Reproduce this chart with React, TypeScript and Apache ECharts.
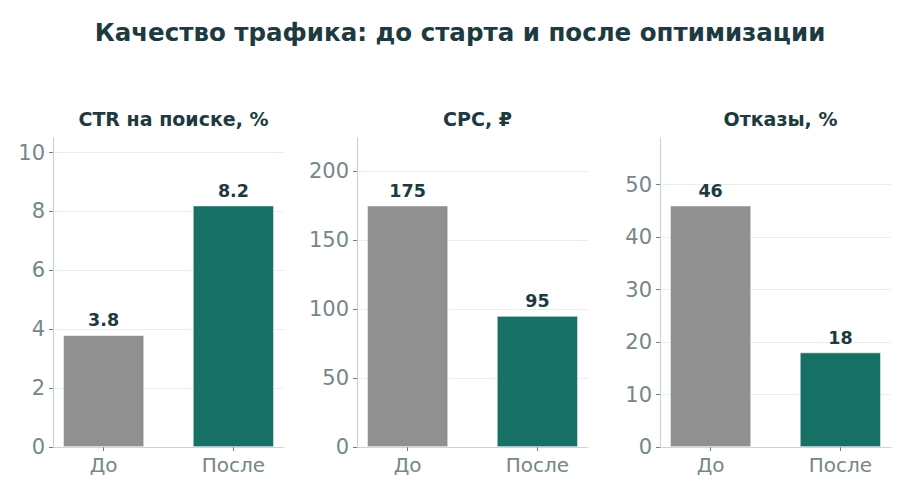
import { useEffect, useRef } from 'react';
import * as echarts from 'echarts';

const categories = ['До', 'После'];
const panelTitles = ['CTR на поиске, %', 'CPC, ₽', 'Отказы, %'];
const ctrValues = [3.8, 8.2];
const cpcValues = [175, 95];
const bounceValues = [46, 18];
const ctrTicks = [0, 2, 4, 6, 8, 10];
const cpcTicks = [0, 50, 100, 150, 200];
const bounceTicks = [0, 10, 20, 30, 40, 50];

const DARK = '#1d3a40';
const GRAY_TEXT = '#76868a';
const AXIS = '#c9d4d4';
const GRID = '#e9efef';
const BAR_COLORS = ['#909090', '#167066'];
const FONT = '"DejaVu Sans", sans-serif';

const panels = [
  { values: ctrValues, ticks: ctrTicks, left: 53 },
  { values: cpcValues, ticks: cpcTicks, left: 357 },
  { values: bounceValues, ticks: bounceTicks, left: 660 },
];
const gridWidth = 231;

export default function App() {
  const ref = useRef<HTMLDivElement>(null);

  useEffect(() => {
    document.body.style.margin = '0';
    if (!ref.current) return;
    const chart = echarts.init(ref.current, null, { renderer: 'svg' });

    const option: echarts.EChartsOption = {
      animation: false,
      backgroundColor: '#ffffff',
      textStyle: { fontFamily: FONT },
      title: [
        {
          text: 'Качество трафика: до старта и после оптимизации',
          left: 455,
          textAlign: 'center',
          top: 15,
          textStyle: { fontFamily: FONT, fontSize: 24.5, fontWeight: 'bold', color: DARK },
        },
        ...panels.map((p, i) => ({
          text: panelTitles[i],
          left: p.left + gridWidth / 2,
          textAlign: 'center' as const,
          top: 104,
          textStyle: { fontFamily: FONT, fontSize: 19, fontWeight: 'bold' as const, color: DARK },
        })),
      ],
      grid: panels.map((p) => ({
        left: p.left,
        width: gridWidth,
        top: 138,
        bottom: 34,
        containLabel: false,
      })),
      xAxis: panels.map((_, i) => ({
        type: 'value' as const,
        gridIndex: i,
        min: -0.39,
        max: 1.39,
        splitLine: { show: false },
        axisLine: { show: true, onZero: false, lineStyle: { color: AXIS, width: 1.2 } },
        axisTick: {
          show: true,
          customValues: [0, 1],
          length: 4,
          lineStyle: { color: '#6f7f80', width: 1 },
        },
        axisLabel: {
          customValues: [0, 1],
          formatter: (v: number) => categories[Math.round(v)] ?? '',
          fontSize: 20,
          color: GRAY_TEXT,
          fontFamily: FONT,
          margin: 8,
        },
      })),
      yAxis: panels.map((p, i) => ({
        type: 'value' as const,
        gridIndex: i,
        min: 0,
        max: Math.max(...p.values) * 1.28,
        axisLine: { show: true, onZero: false, lineStyle: { color: AXIS, width: 1.2 } },
        axisTick: {
          show: true,
          customValues: p.ticks,
          length: 4,
          lineStyle: { color: '#6f7f80', width: 1 },
        },
        axisLabel: {
          customValues: p.ticks,
          fontSize: 21,
          color: GRAY_TEXT,
          fontFamily: FONT,
          margin: 8,
        },
        splitLine: { show: true, lineStyle: { color: GRID, width: 1 } },
      })),
      series: panels.map((p, i) => ({
        type: 'bar' as const,
        xAxisIndex: i,
        yAxisIndex: i,
        barWidth: 81,
        data: p.values.map((v, j) => ({
          value: [j, v],
          itemStyle: { color: BAR_COLORS[j], borderColor: '#ffffff', borderWidth: 0.6 },
        })),
        label: {
          show: true,
          position: 'top' as const,
          distance: 6,
          formatter: (d: any) => String(d.value[1]),
          fontFamily: FONT,
          fontSize: 17.5,
          fontWeight: 'bold' as const,
          color: DARK,
        },
      })),
    };

    chart.setOption(option);
    return () => {
      chart.dispose();
    };
  }, []);

  return <div ref={ref} style={{ width: 900, height: 481 }} />;
}
